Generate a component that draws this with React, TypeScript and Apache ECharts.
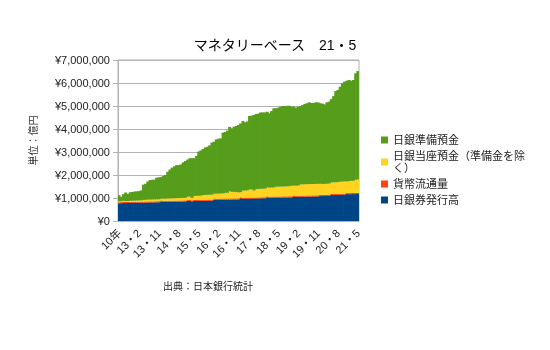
import React, { useEffect, useRef } from 'react';
import * as echarts from 'echarts';

const categories: string[] = [
  '10年', '11年', '12年', '12・8', '12・9', '12・10', '12・11', '12・12', '13・1',
  '13・2', '13・3', '13・4', '13・5', '13・6', '13・7', '13・8', '13・9', '13・10', '13・11', '13・12',
  '14・1', '14・2', '14・3', '14・4', '14・5', '14・6', '14・7', '14・8', '14・9', '14・10', '14・11', '14・12',
  '15・1', '15・2', '15・3', '15・4', '15・5', '15・6', '15・7', '15・8', '15・9', '15・10', '15・11', '15・12',
  '16・1', '16・2', '16・3', '16・4', '16・5', '16・6', '16・7', '16・8', '16・9', '16・10', '16・11', '16・12',
  '17・1', '17・2', '17・3', '17・4', '17・5', '17・6', '17・7', '17・8', '17・9', '17・10', '17・11', '17・12',
  '18・1', '18・2', '18・3', '18・4', '18・5', '18・6', '18・7', '18・8', '18・9', '18・10', '18・11', '18・12',
  '19・1', '19・2', '19・3', '19・4', '19・5', '19・6', '19・7', '19・8', '19・9', '19・10', '19・11', '19・12',
  '20・1', '20・2', '20・3', '20・4', '20・5', '20・6', '20・7', '20・8', '20・9', '20・10', '20・11', '20・12',
  '21・1', '21・2', '21・3', '21・4', '21・5',
];

// 日銀券発行高 (億円)
const banknotes: number[] = [
  770000, 775000, 790000, 780000, 785000, 790000, 790000, 795000, 795000,
  800000, 800000, 802000, 805000, 805000, 808000, 808000, 810000, 812000, 815000, 850000,
  835000, 835000, 838000, 840000, 840000, 842000, 842000, 845000, 845000, 848000, 850000, 885000,
  868000, 855000, 872000, 875000, 875000, 878000, 878000, 880000, 882000, 885000, 885000, 930000,
  920000, 920000, 925000, 925000, 928000, 930000, 930000, 932000, 935000, 935000, 938000, 985000,
  970000, 970000, 972000, 975000, 975000, 978000, 980000, 980000, 982000, 985000, 985000, 1030000,
  1015000, 1015000, 1018000, 1020000, 1020000, 1022000, 1025000, 1025000, 1025000, 1028000, 1030000, 1065000,
  1055000, 1055000, 1058000, 1060000, 1060000, 1062000, 1065000, 1065000, 1068000, 1068000, 1070000, 1100000,
  1085000, 1085000, 1088000, 1095000, 1130000, 1135000, 1135000, 1138000, 1140000, 1142000, 1145000, 1180000,
  1165000, 1168000, 1170000, 1172000, 1175000,
];

// 貨幣流通量 (億円)
const coins: number[] = [
  45000, 45000, 45000, 45000, 45000, 45000, 45000, 45000, 45000,
  45000, 45000, 45000, 45000, 45000, 45000, 45000, 45000, 45000, 45000, 46000,
  46000, 46000, 46000, 46000, 46000, 46000, 46000, 46000, 46000, 46000, 46000, 46000,
  46000, 46000, 46000, 46000, 46000, 46000, 46000, 46000, 46000, 46000, 46000, 46000,
  46000, 46000, 46000, 46000, 46000, 46000, 46000, 46000, 46000, 46000, 46000, 47000,
  47000, 47000, 47000, 47000, 47000, 47000, 47000, 47000, 47000, 47000, 47000, 47000,
  47000, 47000, 47000, 47000, 47000, 47000, 47000, 47000, 47000, 47000, 47000, 47000,
  47000, 47000, 47000, 47000, 47000, 47000, 47000, 47000, 47000, 47000, 47000, 48000,
  48000, 48000, 48000, 48000, 48000, 48000, 48000, 48000, 48000, 48000, 48000, 48000,
  48000, 48000, 48000, 48000, 48000,
];

// 日銀当座預金（準備金を除く） (億円)
const currentDeposits: number[] = [
  40000, 40000, 42000, 40000, 40000, 45000, 45000, 48000, 48000,
  50000, 50000, 70000, 75000, 78000, 80000, 80000, 82000, 85000, 85000, 80000,
  95000, 98000, 100000, 100000, 102000, 105000, 105000, 108000, 110000, 110000, 112000, 125000,
  150000, 105000, 170000, 172000, 175000, 178000, 205000, 208000, 210000, 212000, 215000, 210000,
  222000, 225000, 225000, 228000, 250000, 252000, 320000, 290000, 285000, 275000, 265000, 220000,
  305000, 310000, 312000, 350000, 352000, 300000, 365000, 368000, 370000, 372000, 375000, 380000,
  390000, 392000, 395000, 425000, 428000, 430000, 430000, 432000, 435000, 438000, 455000, 425000,
  435000, 440000, 485000, 488000, 490000, 490000, 492000, 495000, 495000, 498000, 500000, 470000,
  478000, 480000, 482000, 485000, 495000, 500000, 502000, 505000, 520000, 525000, 528000, 490000,
  525000, 530000, 532000, 575000, 585000,
];

// 日銀準備預金 (億円)
const reserves: number[] = [
  265000, 190000, 293000, 375000, 300000, 370000, 380000, 392000, 402000,
  405000, 435000, 663000, 695000, 792000, 847000, 857000, 863000, 938000, 955000, 934000,
  984000, 1021000, 1156000, 1254000, 1332000, 1387000, 1437000, 1431000, 1459000, 1546000, 1602000, 1614000,
  1666000, 1724000, 1642000, 1737000, 1924000, 1968000, 2001000, 2066000, 2092000, 2147000, 2264000, 2264000,
  2362000, 2389000, 2394000, 2641000, 2646000, 2702000, 2794000, 2762000, 2834000, 2874000, 2921000, 2988000,
  3028000, 2963000, 2999000, 3198000, 3206000, 3285000, 3258000, 3275000, 3321000, 3316000, 3313000, 3293000,
  3228000, 3326000, 3440000, 3408000, 3435000, 3471000, 3498000, 3496000, 3503000, 3497000, 3438000, 3443000,
  3393000, 3428000, 3410000, 3445000, 3493000, 3521000, 3556000, 3523000, 3520000, 3547000, 3543000, 3502000,
  3489000, 3457000, 3542000, 3562000, 3627000, 3747000, 3965000, 4009000, 4132000, 4275000, 4339000, 4382000,
  4392000, 4354000, 4380000, 4625000, 4712000,
];

const seriesNames: string[] = ['日銀券発行高', '貨幣流通量', '日銀当座預金（準備金を除く）', '日銀準備預金'];
const legendOrder: string[] = ['日銀準備預金', '日銀当座預金（準備金を除く）', '貨幣流通量', '日銀券発行高'];
const colors: string[] = ['#004586', '#ff420e', '#ffd320', '#579d1c'];

const FONT = "'Liberation Sans', 'Noto Sans CJK JP', sans-serif";

export default function App() {
  const ref = useRef<HTMLDivElement>(null);
  useEffect(() => {
    const chart = echarts.init(ref.current!, null, { renderer: 'svg' });
    const dataSets = [banknotes, coins, currentDeposits, reserves];
    chart.setOption({
      animation: false,
      textStyle: { fontFamily: FONT },
      title: {
        text: 'マネタリーベース　21・5',
        left: 'center',
        top: 33,
        textStyle: { fontSize: 14, fontWeight: 'normal', color: '#000', fontFamily: FONT },
      },
      legend: {
        orient: 'vertical',
        left: 376,
        top: 129,
        data: legendOrder,
        icon: 'rect',
        itemWidth: 7,
        itemHeight: 7,
        itemGap: 4,
        formatter: (name: string) => (name === '日銀当座預金（準備金を除く）' ? '日銀当座預金（準備金を除\nく）' : name),
        textStyle: { fontSize: 11, color: '#222', lineHeight: 12, fontFamily: FONT },
      },
      grid: {
        left: 118,
        right: 191,
        top: 60,
        bottom: 129,
        show: true,
        borderColor: '#b3b3b3',
        borderWidth: 1,
      },
      xAxis: {
        type: 'category',
        data: categories,
        boundaryGap: true,
        axisLine: { lineStyle: { color: '#b3b3b3' } },
        axisTick: { interval: 0, length: 3, lineStyle: { color: '#b3b3b3' } },
        axisLabel: { interval: 8, rotate: 45, fontSize: 11, color: '#222', margin: 10, fontFamily: FONT },
      },
      yAxis: {
        type: 'value',
        min: 0,
        max: 7000000,
        interval: 1000000,
        name: '単位：億円',
        nameLocation: 'middle',
        nameRotate: 90,
        nameGap: 80,
        nameTextStyle: { fontSize: 10, color: '#333', fontFamily: FONT },
        axisLine: { show: true, lineStyle: { color: '#b3b3b3' } },
        axisTick: { show: true, length: 5, lineStyle: { color: '#b3b3b3' } },
        splitLine: { lineStyle: { color: '#b3b3b3' } },
        axisLabel: {
          fontSize: 11,
          color: '#222',
          margin: 8,
          fontFamily: FONT,
          formatter: (v: number) => '¥' + String(v).replace(/\B(?=(\d{3})+(?!\d))/g, ','),
        },
      },
      series: seriesNames.map((name, k) => ({
        name,
        type: 'bar',
        stack: 'total',
        barWidth: 3,
        itemStyle: { color: colors[k] },
        data: dataSets[k],
      })),
      graphic: [
        {
          type: 'text',
          left: 163,
          top: 281,
          style: { text: '出典：日本銀行統計', fontSize: 10, fill: '#222', fontFamily: FONT },
        },
      ],
    });
    return () => chart.dispose();
  }, []);
  return <div ref={ref} style={{ position: 'fixed', left: 0, top: 0, width: 550, height: 350 }} />;
}
